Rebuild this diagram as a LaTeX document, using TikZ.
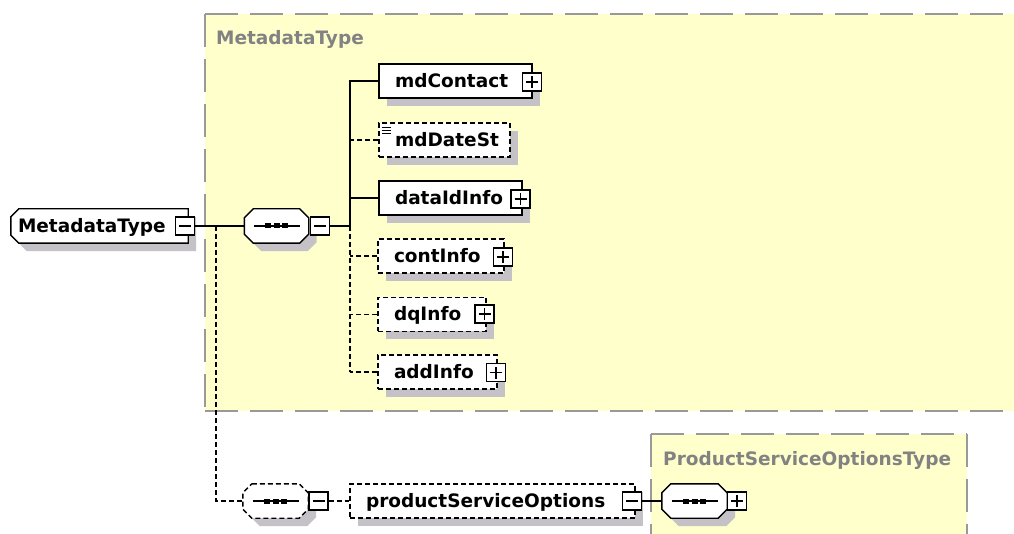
\documentclass[tikz,border=0pt]{standalone}
\usepackage{fontspec}
\setmainfont{DejaVu Sans}
\usetikzlibrary{shadows}
\definecolor{yel}{HTML}{FFFFCC}
\definecolor{bordergray}{HTML}{999999}
\definecolor{labelgray}{HTML}{828282}
\definecolor{shadowc}{HTML}{C4C2C6}
\pgfdeclarelayer{back}
\pgfdeclarelayer{outline}
\pgfsetlayers{back,outline,main}
\tikzset{
  lbl/.style={font=\bfseries\fontsize{18.5}{22}\selectfont},
  withshadow/.style={general shadow={fill=shadowc, shadow xshift=8pt, shadow yshift=-8pt}},
  elemtext/.style={lbl, shape=rectangle, minimum height=34pt, text height=13pt, text depth=0pt,
    inner xsep=16pt, inner ysep=0pt, align=left},
  elem/.style={elemtext, draw=black, line width=1.4pt, fill=white, withshadow},
  optelem/.style={elem, dash pattern=on 5pt off 3pt},
  expbox/.style={shape=rectangle, draw=black, line width=1.3pt, fill=white, solid,
    minimum width=19pt, minimum height=18pt, inner sep=0pt},
  minusbox/.style={expbox, path picture={
    \draw[solid, line width=1.2pt] ([xshift=-6pt]path picture bounding box.center) -- ([xshift=6pt]path picture bounding box.center);}},
  plusbox/.style={expbox, path picture={
    \draw[solid, line width=1.2pt] ([xshift=-6pt]path picture bounding box.center) -- ([xshift=6pt]path picture bounding box.center);
    \draw[solid, line width=1.2pt] ([yshift=-6pt]path picture bounding box.center) -- ([yshift=6pt]path picture bounding box.center);}},
  seqframe/.style={shape=rectangle, minimum width=64pt, minimum height=34pt, inner sep=0pt},
  outl/.style={draw=black, line width=1.4pt, fill=white},
  optoutl/.style={outl, dash pattern=on 5pt off 3pt},
  conn/.style={draw=black, line width=1.4pt},
  optconn/.style={conn, dash pattern=on 5pt off 3pt},
  boxborder/.style={draw=bordergray, line width=2pt, dash pattern=on 33pt off 12pt},
  boxlabel/.style={lbl, text=labelgray, inner sep=0pt},
  docicon/.style={path picture={
    \foreach \k in {4,7,10} \draw[solid, line width=0.8pt] ([xshift=3pt, yshift=-\k pt]path picture bounding box.north west) -- ++(9pt,0pt);}}
}
% chamfered outline with shadow, drawn under the node's text: #1 node, #2 left cut, #3 right cut, #4 style
\newcommand\chamferoutline[4]{%
  \begin{pgfonlayer}{outline}
  \fill[shadowc, transform canvas={shift={(8pt,-8pt)}}]
    ([xshift=#2]#1.north west) -- ([xshift=-#3]#1.north east) -- ([yshift=-#3]#1.north east)
    -- ([yshift=#3]#1.south east) -- ([xshift=-#3]#1.south east) -- ([xshift=#2]#1.south west)
    -- ([yshift=#2]#1.south west) -- ([yshift=-#2]#1.north west) -- cycle;
  \path[#4]
    ([xshift=#2]#1.north west) -- ([xshift=-#3]#1.north east) -- ([yshift=-#3]#1.north east)
    -- ([yshift=#3]#1.south east) -- ([xshift=-#3]#1.south east) -- ([xshift=#2]#1.south west)
    -- ([yshift=#2]#1.south west) -- ([yshift=-#2]#1.north west) -- cycle;
  \end{pgfonlayer}}
% sequence compositor symbol inside a node
\newcommand\seqsymbol[1]{%
  \draw[solid, line width=1.5pt] ([xshift=-23pt]#1.center) -- ([xshift=23pt]#1.center);
  \foreach \d in {-8.5,0,8.5}
    \fill[black] ([xshift=\d pt-3pt, yshift=-2.5pt]#1.center) rectangle ++(6pt,5pt);}
\begin{document}
\begin{tikzpicture}[x=1pt, y=-1pt]
\useasboundingbox (0,0) rectangle (1014,534);
\begin{scope}
\clip (0,0) rectangle (1014,534);
% type boxes
\begin{pgfonlayer}{back}
\fill[yel] (205,14) rectangle (1030,411);
\draw[boxborder] (205,14) -- (1030,14);
\draw[boxborder] (205,14) -- (205,411);
\draw[boxborder] (205,411) -- (1030,411);
\fill[yel] (651,434) rectangle (967,545);
\draw[boxborder] (651,434) -- (967,434);
\draw[boxborder] (651,434) -- (651,545);
\draw[boxborder] (967,434) -- (967,545);
\end{pgfonlayer}
\node[boxlabel, anchor=base west] (lblMT) at (216,45) {MetadataType};
\node[boxlabel, anchor=base west] (lblPSOT) at (663,465) {ProductServiceOptionsType};

% root element
\node[elemtext, text width=163pt, inner xsep=7pt] (mt) at (99.5,226) {MetadataType};
\chamferoutline{mt}{8pt}{0pt}{outl}
\node[minusbox] (mtbox) at (185,226) {};

% sequence 1
\node[seqframe] (seq1) at (276.5,226) {};
\chamferoutline{seq1}{9pt}{9pt}{outl}
\seqsymbol{seq1}
\node[minusbox] (seq1box) at (320,226) {};

% children
\node[elem, text width=121pt] (mdContact) at (455.5,81) {mdContact};
\node[plusbox] (mdContactbox) at (532,82) {};
\node[optelem, docicon, text width=99pt] (mdDateSt) at (444.5,140) {mdDateSt};
\node[elem, text width=111pt] (dataIdInfo) at (450.5,198) {dataIdInfo};
\node[plusbox] (dataIdInfobox) at (520.5,199) {};
\node[optelem, text width=94pt] (contInfo) at (441,256) {contInfo};
\node[plusbox] (contInfobox) at (503,257) {};
\node[optelem, text width=76pt] (dqInfo) at (432,314.5) {dqInfo};
\node[plusbox] (dqInfobox) at (484.5,314) {};
\node[optelem, text width=87pt] (addInfo) at (437.5,372) {addInfo};
\node[plusbox] (addInfobox) at (496,372.5) {};

% lower branch
\node[seqframe, minimum width=65pt] (seq2) at (275.5,501) {};
\chamferoutline{seq2}{9pt}{9pt}{optoutl}
\seqsymbol{seq2}
\node[minusbox] (seq2box) at (318.5,501) {};
\node[optelem, text width=253pt] (pso) at (492.5,501) {productServiceOptions};
\node[minusbox] (psobox) at (632,501) {};
\node[seqframe, minimum width=65pt] (seq3) at (694.5,501) {};
\chamferoutline{seq3}{9pt}{9pt}{outl}
\seqsymbol{seq3}
\node[plusbox] (seq3box) at (737,501) {};

% connectors
\coordinate (busMid) at (350,226);
\coordinate (branch) at (216,226);
\draw[conn] (mtbox.east) -- (seq1.west);
\draw[conn] (seq1box.east) -- (busMid);
\draw[conn] (mdContact.west) -| (busMid);
\draw[conn] (dataIdInfo.west) -- (dataIdInfo.west -| busMid);
\draw[optconn] (mdDateSt.west) -- (mdDateSt.west -| busMid);
\draw[optconn] (busMid) -- (addInfo.west -| busMid);
\draw[optconn] (contInfo.west) -- (contInfo.west -| busMid);
\draw[optconn] (dqInfo.west) -- (dqInfo.west -| busMid);
\draw[optconn] (addInfo.west) -- (addInfo.west -| busMid);
\draw[optconn] (branch) |- (seq2.west);
\draw[optconn] (seq2box.east) -- (pso.west);
\draw[conn] (psobox.east) -- (seq3.west);
\end{scope}
\end{tikzpicture}
\end{document}
